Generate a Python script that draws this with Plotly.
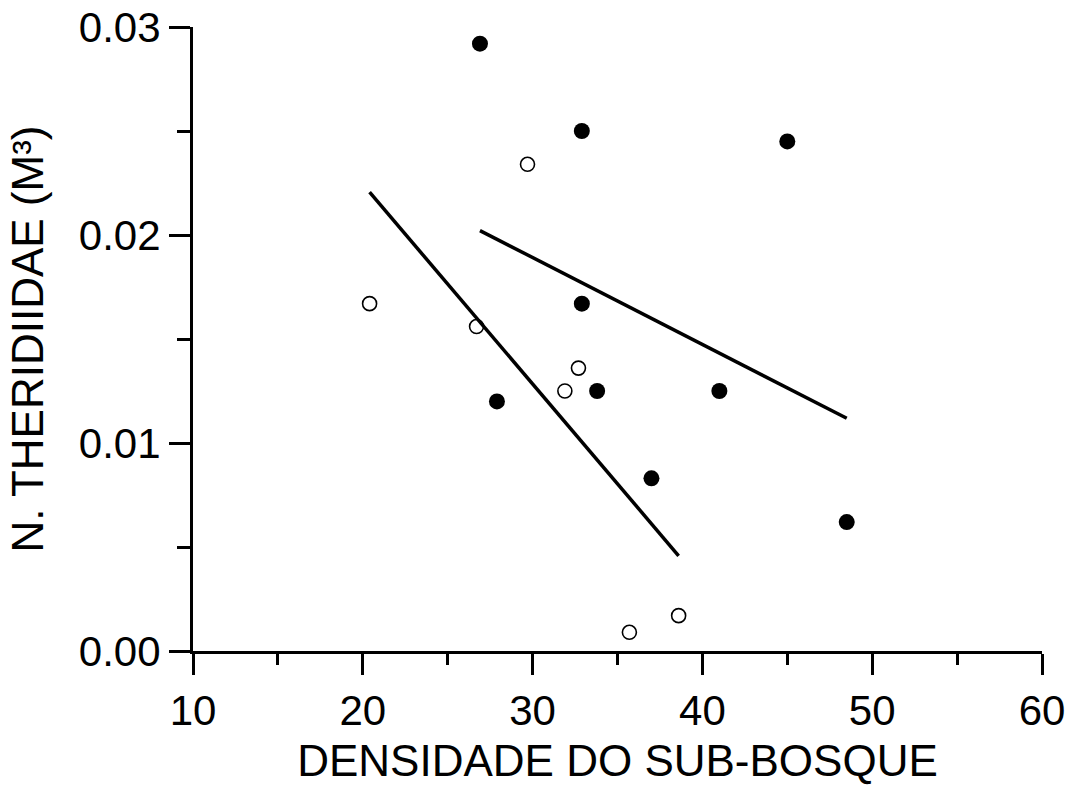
import numpy as np
import plotly.graph_objects as go

# Density of the understorey vs. Theridiidae per m3
open_x = [29.7, 20.4, 26.7, 32.7, 31.9, 35.7, 38.6]
open_y = [0.0234, 0.0167, 0.0156, 0.0136, 0.0125, 0.0009, 0.0017]

filled_x = [26.9, 32.9, 45.0, 32.9, 27.9, 33.8, 41.0, 37.0, 48.5]
filled_y = [0.0292, 0.0250, 0.0245, 0.0167, 0.0120, 0.0125, 0.0125, 0.0083, 0.0062]

x_ticks = [10, 20, 30, 40, 50, 60]
y_ticks = [0.00, 0.01, 0.02, 0.03]

FONT = "Liberation Sans, Arial, sans-serif"


def fit_line(xs, ys):
    slope, intercept = np.polyfit(xs, ys, 1)
    xe = np.array([min(xs), max(xs)])
    return xe, slope * xe + intercept


fig = go.Figure()

for xs, ys in [(open_x, open_y), (filled_x, filled_y)]:
    lx, ly = fit_line(xs, ys)
    fig.add_trace(go.Scatter(x=lx, y=ly, mode="lines",
                             line=dict(color="black", width=3.5),
                             showlegend=False, hoverinfo="skip"))

fig.add_trace(go.Scatter(
    x=open_x, y=open_y, mode="markers",
    marker=dict(symbol="circle-open", size=14, color="black",
                line=dict(width=1.6, color="black")),
    showlegend=False, cliponaxis=False))

fig.add_trace(go.Scatter(
    x=filled_x, y=filled_y, mode="markers",
    marker=dict(symbol="circle", size=16, color="black",
                line=dict(width=0)),
    showlegend=False, cliponaxis=False))

axis_common = dict(
    showline=True, linecolor="black", linewidth=3,
    ticks="outside", ticklen=21, tickwidth=3, tickcolor="black",
    showgrid=False, zeroline=False,
    tickfont=dict(family=FONT, size=42, color="black"),
)

fig.update_xaxes(
    range=[10, 60], tickvals=x_ticks, ticktext=[str(v) for v in x_ticks],
    minor=dict(dtick=5, ticks="outside", ticklen=11, tickwidth=3,
               tickcolor="black", showgrid=False),
    title=dict(text="DENSIDADE DO SUB-BOSQUE",
               font=dict(family=FONT, size=44, color="black"), standoff=12),
    **axis_common)

fig.update_yaxes(
    range=[0, 0.03], tickvals=y_ticks, tickformat=".2f",
    minor=dict(dtick=0.005, ticks="outside", ticklen=13, tickwidth=3,
               tickcolor="black", showgrid=False),
    title=dict(text="N. THERIDIIDAE (M³)",
               font=dict(family=FONT, size=44, color="black"), standoff=22),
    **axis_common)

fig.update_layout(
    width=1073, height=792,
    margin=dict(l=193, r=31, t=27, b=141, autoexpand=False),
    plot_bgcolor="white", paper_bgcolor="white",
)

fig.write_html("out.html")
